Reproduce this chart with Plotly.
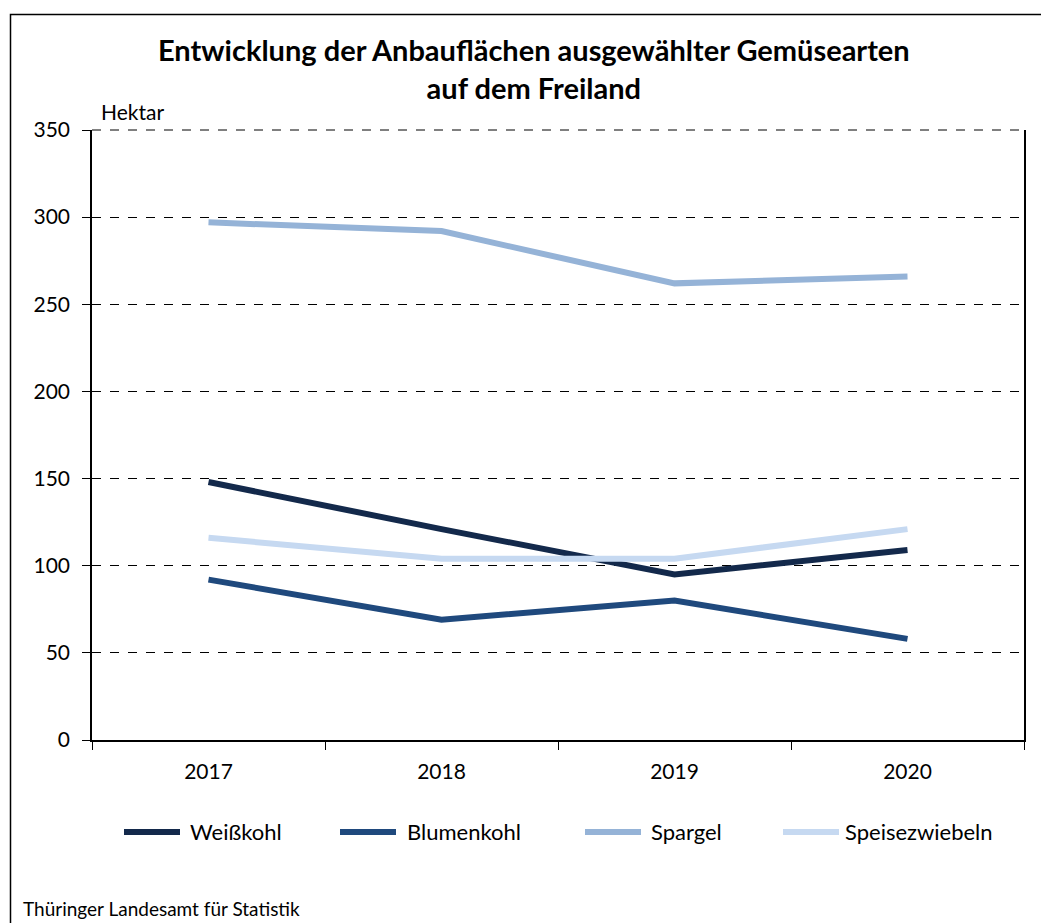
import plotly.graph_objects as go

# ---- data ----
years = ["2017", "2018", "2019", "2020"]
weisskohl = [148, 121, 95, 109]
blumenkohl = [92, 69, 80, 58]
spargel = [297, 292, 262, 266]
speisezwiebeln = [116, 104, 104, 121]

series_names = ["Weißkohl", "Blumenkohl", "Spargel", "Speisezwiebeln"]
series_values = [weisskohl, blumenkohl, spargel, speisezwiebeln]
series_colors = ["#13294B", "#1F497D", "#95B3D7", "#C6D9F1"]

y_ticks = [0, 50, 100, 150, 200, 250, 300, 350]

title_text = "<b>Entwicklung der Anbauflächen ausgewählter Gemüsearten<br>auf dem Freiland</b>"
unit_text = "Hektar"
source_text = "Thüringer Landesamt für Statistik"

# ---- layout geometry (pixels) ----
W, H = 1041, 923
L, R, T, B = 92, 1024, 130, 740
FONT = "Lato"
FS = 21

def px2x(px):
    return (px - L) / (R - L)

def px2y(py):
    return (B - py) / (B - T)

fig = go.Figure()
for name, vals, col in zip(series_names, series_values, series_colors):
    fig.add_trace(go.Scatter(x=years, y=vals, name=name, mode="lines",
                             line=dict(color=col, width=6), showlegend=False))

# manual legend (symbol start px, text start px)
legend_pos = [(124, 188), (340, 405), (585, 649), (783, 843)]
legend_y = 832
shapes = []
annotations = []
for (sx, tx), name, col in zip(legend_pos, series_names, series_colors):
    shapes.append(dict(type="line", xref="paper", yref="paper",
                       x0=px2x(sx), x1=px2x(sx + 56), y0=px2y(legend_y), y1=px2y(legend_y),
                       line=dict(color=col, width=6)))
    annotations.append(dict(text=name, xref="paper", yref="paper", x=px2x(tx), y=px2y(legend_y),
                            xanchor="left", yanchor="middle", showarrow=False,
                            font=dict(family=FONT, size=FS + 1, color="#000000")))

# top dashed gridline (plotly omits the gridline on the range edge)
shapes.append(dict(type="line", xref="paper", yref="paper", x0=0, x1=1, y0=1, y1=1,
                   line=dict(color="#000000", width=1, dash="dash"), layer="below"))

# outer frame
shapes.append(dict(type="rect", xref="paper", yref="paper",
                   x0=px2x(10.5), x1=px2x(1060), y0=px2y(14.5), y1=px2y(960),
                   line=dict(color="#000000", width=1.5), layer="below"))

annotations.append(dict(text=title_text, xref="paper", yref="paper", x=px2x(534), y=px2y(30),
                        xanchor="center", yanchor="top", showarrow=False,
                        font=dict(family=FONT, size=29, color="#000000")))
annotations.append(dict(text=unit_text, xref="paper", yref="paper", x=px2x(99), y=px2y(112),
                        xanchor="left", yanchor="middle", showarrow=False,
                        font=dict(family=FONT, size=FS, color="#000000")))
annotations.append(dict(text=source_text, xref="paper", yref="paper", x=px2x(21), y=px2y(922),
                        xanchor="left", yanchor="bottom", showarrow=False,
                        font=dict(family=FONT, size=19, color="#000000")))

fig.update_layout(
    width=W, height=H,
    margin=dict(l=L, r=W - R, t=T, b=H - B, pad=0),
    paper_bgcolor="white", plot_bgcolor="white",
    font=dict(family=FONT, size=FS, color="#000000"),
    shapes=shapes, annotations=annotations,
    showlegend=False,
)
fig.update_xaxes(type="category", range=[-0.5, 3.5], showline=True, linecolor="#000000", linewidth=1.5,
                 ticks="outside", tickson="boundaries", ticklen=8, tickcolor="#000000", tickwidth=1.2,
                 showgrid=False, tickfont=dict(family=FONT, size=FS), ticklabelstandoff=12)
fig.update_yaxes(range=[0, 350], tickvals=y_ticks, showline=True, linecolor="#000000", linewidth=1.5,
                 mirror=True, ticks="outside", ticklen=8, tickcolor="#000000", tickwidth=1.2,
                 showgrid=True, gridcolor="#000000", griddash="dash", gridwidth=1,
                 zeroline=False, tickfont=dict(family=FONT, size=FS), ticklabelstandoff=8)

fig.write_html("out.html", config={"displayModeBar": False})

# remove default page margin so the figure sits at the window's top-left corner
with open("out.html", "r", encoding="utf-8") as f:
    html = f.read()
html = html.replace("<head>", "<head><style>html,body{margin:0;padding:0;overflow:hidden;}</style>", 1)
with open("out.html", "w", encoding="utf-8") as f:
    f.write(html)
